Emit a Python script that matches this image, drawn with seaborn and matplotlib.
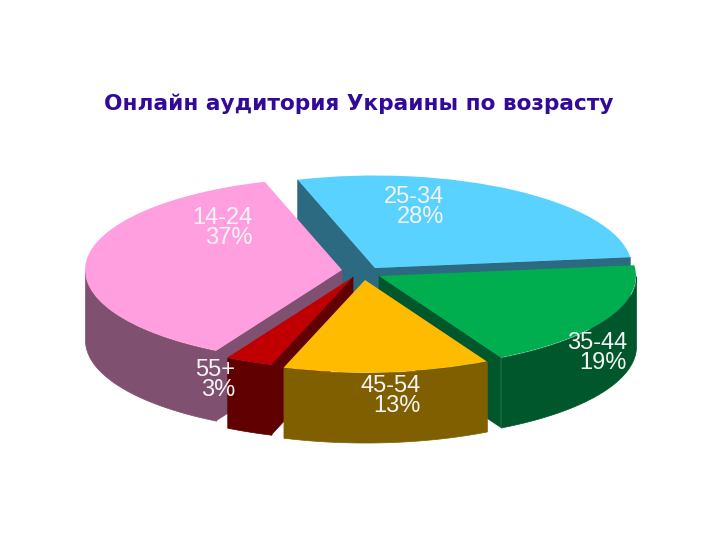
"""Online audience of Ukraine by age: exploded 3D-style pie."""
import matplotlib
matplotlib.use("Agg")
import matplotlib.pyplot as plt
from matplotlib.patches import Polygon
import numpy as np
import seaborn as sns

sns.set_theme(style="white")

TITLE = "Онлайн аудитория Украины по возрасту"
age_groups = ["25-34", "35-44", "45-54", "55+", "14-24"]
shares = [28, 19, 13, 3, 37]
top_colors = ["#5AD2FF", "#00AE50", "#FFBB00", "#C00000", "#FF9FE0"]
wall_colors = ["#2C6A82", "#00572B", "#7F5F00", "#600000", "#805070"]

W, H = 720, 540
SQUASH = 0.36
RADIUS = 257
DEPTH_PX = 70
START_ANGLE = 107.5

# apex of every slice, in pixels
apex_px = [(375, 268), (379, 276), (365, 280), (353, 277), (342, 270)]
# right edge / vertical centre of every label, in pixels
label_px = [(444, 207), (627, 353), (421, 396), (235, 380), (253, 228)]
draw_order = [0, 4, 1, 3, 2]


def to_data(px, py):
    return px, (H / 2 - py) / SQUASH


def add_walls(ax, wedge, color, zorder):
    """Side faces of a slice: the cuts facing us and the visible part of the rim."""
    cx, cy = wedge.center
    depth = DEPTH_PX / SQUASH
    for theta, normal in ((wedge.theta1, wedge.theta1 - 90), (wedge.theta2, wedge.theta2 + 90)):
        if np.sin(np.radians(normal)) >= 0:
            continue
        rx = cx + RADIUS * np.cos(np.radians(theta))
        ry = cy + RADIUS * np.sin(np.radians(theta))
        ax.add_patch(Polygon(
            [(cx, cy), (rx, ry), (rx, ry - depth), (cx, cy - depth)],
            closed=True, fc=color, ec=color, lw=0.5, zorder=zorder,
        ))
    thetas = np.radians(np.linspace(wedge.theta1, wedge.theta2, 240))
    thetas = thetas[np.sin(thetas) < 0]
    if len(thetas):
        xs = cx + RADIUS * np.cos(thetas)
        ys = cy + RADIUS * np.sin(thetas)
        ax.fill_between(xs, ys - depth, ys, color=color, lw=0.5, zorder=zorder)


fig = plt.figure(figsize=(W / 100, H / 100), dpi=100)
ax = fig.add_axes([0, 0, 1, 1])

wedges, _ = ax.pie(
    shares,
    colors=top_colors,
    startangle=START_ANGLE,
    counterclock=False,
    radius=RADIUS,
    wedgeprops={"linewidth": 0},
)

for z, i in enumerate(draw_order):
    wedge = wedges[i]
    wedge.set_center(to_data(*apex_px[i]))
    add_walls(ax, wedge, wall_colors[i], 2 * z + 1)
    wedge.set_zorder(2 * z + 2)

ax.set_aspect(SQUASH)
ax.set_xlim(0, W)
ax.set_ylim(-H / 2 / SQUASH, H / 2 / SQUASH)
ax.axis("off")

fig.text(
    359 / W, 1 - 104 / H, TITLE,
    ha="center", va="center", fontsize=15.6, fontweight="bold",
    color="#33099A", family="DejaVu Sans",
)
for i, group in enumerate(age_groups):
    px, py = label_px[i]
    fig.text(
        px / W, 1 - py / H, f"{group}\n{shares[i]}%",
        ha="right", va="center", ma="right", fontsize=17, linespacing=0.9,
        color="#F4F4F4", family="Liberation Sans", zorder=20,
    )

fig.savefig("out.png", dpi=100)
